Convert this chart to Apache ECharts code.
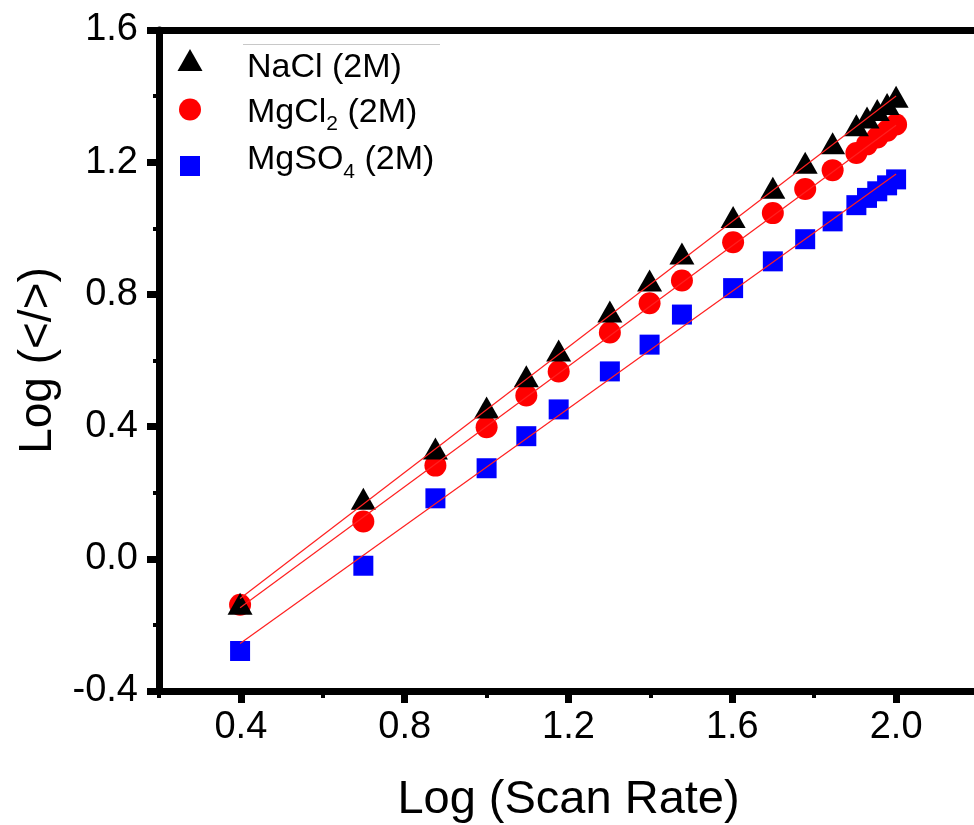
<!DOCTYPE html>
<html>
<head>
<meta charset="utf-8">
<script src="https://cdn.jsdelivr.net/npm/echarts@6/dist/echarts.min.js"></script>
<style>
html,body{margin:0;padding:0;background:#fff;}
#chart{width:974px;height:825px;}
</style>
</head>
<body>
<div id="chart"></div>
<script>
// ---- data ----
const xVals = [0.398, 0.699, 0.875, 1.0, 1.097, 1.176, 1.301, 1.398, 1.477, 1.602, 1.699, 1.778, 1.845, 1.903, 1.929, 1.954, 1.978, 2.0];
const naclY = [-0.136, 0.182, 0.334, 0.458, 0.552, 0.630, 0.748, 0.842, 0.924, 1.034, 1.123, 1.198, 1.257, 1.312, 1.335, 1.358, 1.376, 1.398];
const mgcl2Y = [-0.139, 0.113, 0.282, 0.398, 0.494, 0.567, 0.685, 0.773, 0.842, 0.958, 1.046, 1.119, 1.176, 1.228, 1.254, 1.275, 1.295, 1.314];
const mgso4Y = [-0.279, -0.021, 0.183, 0.274, 0.371, 0.452, 0.567, 0.648, 0.739, 0.819, 0.900, 0.967, 1.021, 1.070, 1.092, 1.112, 1.130, 1.148];
// linear-fit lines (endpoints)
const fitX = [0.398, 2.0];
const fitNaCl = [-0.120, 1.400];
const fitMgCl2 = [-0.148, 1.312];
const fitMgSO4 = [-0.256, 1.164];
// axis ticks
const xMajorTicks = [0.4, 0.8, 1.2, 1.6, 2.0];
const xMinorTicks = [0.2, 0.6, 1.0, 1.4, 1.8, 2.2];
const seriesNames = ['NaCl (2M)', 'MgCl2 (2M)', 'MgSO4 (2M)'];

const zip = (xs, ys) => xs.map((x, i) => [x, ys[i]]);
const FONT = "'Liberation Sans', Arial, sans-serif";

const chart = echarts.init(document.getElementById('chart'), null, {renderer: 'canvas'});

// d: vertical shift of the text relative to the icon centre
function legendFor(name, icon, w, h, top, pad, d, fmt) {
  const left = 190 - w / 2;
  const mainPad = d >= 0 ? [2 * d, 0, 0, pad] : [0, 0, -2 * d, pad];
  const mainPad2 = d >= 0 ? [2 * d, 0, 0, 0] : [0, 0, -2 * d, 0];
  const sd = d + 12;
  const subPad = sd >= 0 ? [2 * sd, 0, 0, 0] : [0, 0, -2 * sd, 0];
  return {
    data: [name],
    orient: 'vertical',
    left: left,
    top: top,
    padding: 0,
    itemWidth: w,
    itemHeight: h,
    icon: icon,
    selectedMode: false,
    formatter: fmt,
    textStyle: {
      fontFamily: FONT,
      color: '#000',
      rich: {
        a: {fontSize: 34, fontFamily: FONT, color: '#000', padding: mainPad},
        b: {fontSize: 34, fontFamily: FONT, color: '#000', padding: mainPad2},
        s: {fontSize: 21, fontFamily: FONT, color: '#000', padding: subPad}
      }
    }
  };
}

const option = {
  animation: false,
  backgroundColor: '#fff',
  textStyle: {fontFamily: FONT},
  grid: {left: 159, right: -4, top: 30, bottom: 134, containLabel: false, outerBoundsMode: 'none'},
  legend: [
    legendFor(seriesNames[0], 'triangle', 25, 22, 49, 39.5, 8, () => '{a|NaCl (2M)}'),
    legendFor(seriesNames[1], 'circle', 22, 22, 95.5, 41, 3, () => '{a|MgCl}{s|2}{b| (2M)}'),
    legendFor(seriesNames[2], 'rect', 20, 20, 143, 42, -6, () => '{a|MgSO}{s|4}{b| (2M)}')
  ],
  graphic: [{
    type: 'line', silent: true,
    shape: {x1: 243, y1: 44.5, x2: 440, y2: 44.5},
    style: {stroke: '#c8c8c8', lineWidth: 1}
  }],
  xAxis: [
    {
      type: 'value', min: 0.2, max: 2.2, position: 'bottom',
      name: 'Log (Scan Rate)', nameLocation: 'middle', nameGap: 86,
      nameTextStyle: {fontSize: 47, fontFamily: FONT, color: '#000'},
      axisLine: {show: true, onZero: false, lineStyle: {color: '#000', width: 7}},
      axisTick: {show: true, inside: false, length: 12, lineStyle: {color: '#000', width: 7}, customValues: xMajorTicks},
      axisLabel: {show: true, fontSize: 38, fontFamily: FONT, color: '#000', margin: 18,
                  customValues: xMajorTicks, formatter: v => v.toFixed(1)},
      splitLine: {show: false}
    },
    {
      type: 'value', min: 0.2, max: 2.2, position: 'bottom', gridIndex: 0,
      axisLine: {show: false, onZero: false},
      axisTick: {show: true, inside: false, length: 7, lineStyle: {color: '#000', width: 4}, customValues: xMinorTicks},
      axisLabel: {show: false},
      splitLine: {show: false}
    },
    {
      type: 'value', min: 0.2, max: 2.2, position: 'top', gridIndex: 0,
      axisLine: {show: true, onZero: false, lineStyle: {color: '#000', width: 7}},
      axisTick: {show: false}, axisLabel: {show: false}, splitLine: {show: false}
    }
  ],
  yAxis: [{
    type: 'value', min: -0.4, max: 1.6, interval: 0.4,
    name: 'Log (</>)', nameLocation: 'middle', nameGap: 95, nameRotate: 90,
    nameTextStyle: {fontSize: 46, fontFamily: FONT, color: '#000'},
    axisLine: {show: true, onZero: false, lineStyle: {color: '#000', width: 7}},
    axisTick: {show: true, inside: false, length: 12, lineStyle: {color: '#000', width: 7}},
    minorTick: {show: true, splitNumber: 2, length: 6, lineStyle: {color: '#000', width: 4}},
    axisLabel: {fontSize: 38, fontFamily: FONT, color: '#000', margin: 21, formatter: v => v.toFixed(1)},
    splitLine: {show: false}
  }],
  series: [
    {name: seriesNames[2], type: 'scatter', symbol: 'rect', symbolSize: 20, z: 2,
     itemStyle: {color: '#0000ff', opacity: 1}, data: zip(xVals, mgso4Y)},
    {name: seriesNames[1], type: 'scatter', symbol: 'circle', symbolSize: 22, z: 2,
     itemStyle: {color: '#ff0000', opacity: 1}, data: zip(xVals, mgcl2Y)},
    {name: seriesNames[0], type: 'scatter', symbol: 'triangle', symbolSize: [25, 22], z: 2,
     itemStyle: {color: '#000000', opacity: 1}, data: zip(xVals, naclY)},
    {name: 'fit NaCl', type: 'line', showSymbol: false, symbol: 'none', z: 5, silent: true,
     lineStyle: {color: '#ff2020', width: 1.2}, data: zip(fitX, fitNaCl)},
    {name: 'fit MgCl2', type: 'line', showSymbol: false, symbol: 'none', z: 5, silent: true,
     lineStyle: {color: '#ff2020', width: 1.2}, data: zip(fitX, fitMgCl2)},
    {name: 'fit MgSO4', type: 'line', showSymbol: false, symbol: 'none', z: 5, silent: true,
     lineStyle: {color: '#ff2020', width: 1.2}, data: zip(fitX, fitMgSO4)}
  ]
};
chart.setOption(option);
</script>
</body>
</html>
